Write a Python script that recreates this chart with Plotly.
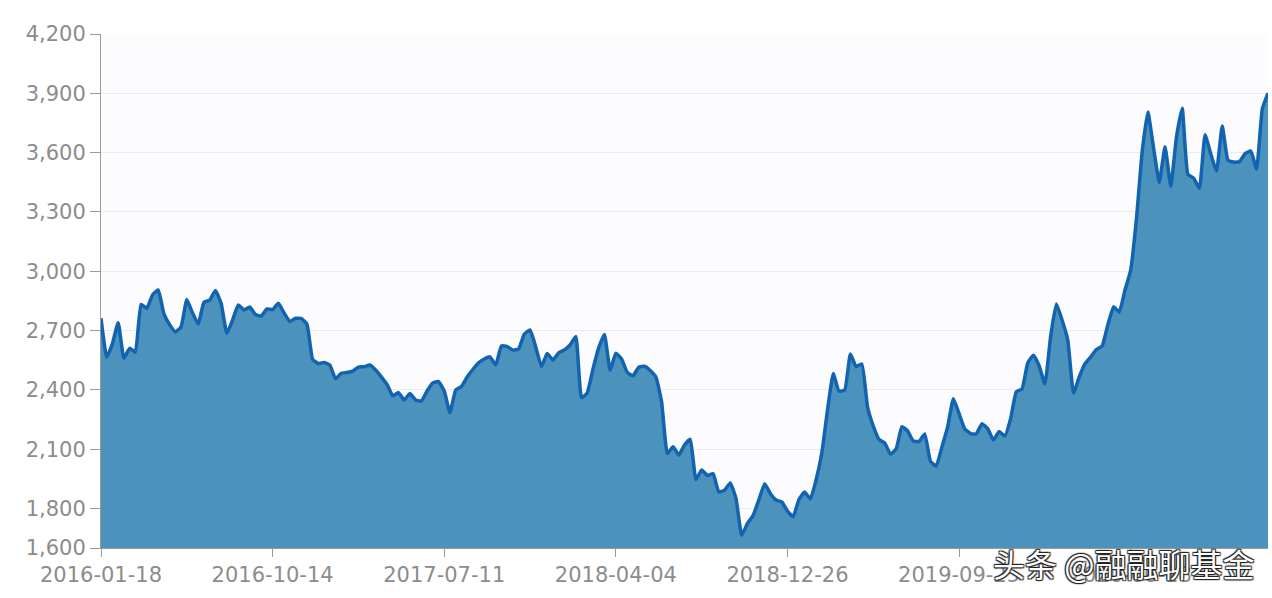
import plotly.graph_objects as go

# Index value, sampled roughly weekly (trading-day positions)
values = [
    2762, 2566, 2634, 2740, 2560, 2610, 2591, 2832, 2812, 2880,
    2905, 2784, 2730, 2693, 2719, 2857, 2789, 2733, 2843, 2854,
    2903, 2838, 2686, 2753, 2829, 2804, 2819, 2781, 2773, 2809,
    2806, 2838, 2789, 2746, 2762, 2761, 2733, 2554, 2533, 2538,
    2526, 2456, 2484, 2488, 2495, 2515, 2517, 2526, 2501, 2466,
    2427, 2370, 2386, 2349, 2381, 2349, 2344, 2394, 2435, 2442,
    2394, 2285, 2399, 2417, 2465, 2503, 2537, 2556, 2567, 2526,
    2622, 2619, 2601, 2607, 2682, 2703, 2617, 2518, 2584, 2551,
    2587, 2602, 2627, 2670, 2360, 2385, 2505, 2612, 2680, 2500,
    2585, 2556, 2488, 2471, 2514, 2519, 2498, 2465, 2338, 2078,
    2112, 2070, 2121, 2150, 1946, 1995, 1967, 1976, 1883, 1893,
    1929, 1851, 1665, 1724, 1765, 1843, 1925, 1876, 1843, 1833,
    1787, 1759, 1845, 1883, 1848, 1944, 2080, 2298, 2483, 2394,
    2399, 2581, 2517, 2531, 2313, 2217, 2149, 2131, 2075, 2101,
    2214, 2192, 2141, 2139, 2177, 2038, 2015, 2111, 2212, 2355,
    2280, 2202, 2179, 2177, 2229, 2204, 2146, 2189, 2166, 2253,
    2390, 2404, 2536, 2575, 2521, 2430, 2670, 2834, 2753, 2652,
    2384, 2465, 2531, 2566, 2604, 2622, 2728, 2820, 2794, 2905,
    3006, 3264, 3603, 3805, 3622, 3450, 3630, 3430, 3679, 3825,
    3490, 3471, 3420, 3690, 3593, 3507, 3735, 3562, 3552, 3554,
    3595, 3608, 3517, 3820, 3901,
]
points = list(range(len(values)))

tick_positions = [0, 30, 60, 90, 120, 150, 180]
tick_dates = ["2016-01-18", "2016-10-14", "2017-07-11", "2018-04-04",
              "2018-12-26", "2019-09-25", "2020-06-18"]
y_ticks = [1600, 1800, 2100, 2400, 2700, 3000, 3300, 3600, 3900, 4200]

axis_font = dict(family="DejaVu Sans", size=21, color="#8c8c8c")

fig = go.Figure()
fig.add_trace(go.Scatter(
    x=points,
    y=values,
    mode="lines",
    line=dict(color="#1263b0", width=3.5, shape="spline", smoothing=0.4),
    fill="tozeroy",
    fillcolor="#4b93bd",
    hoverinfo="skip",
    showlegend=False,
))

# watermark
fig.add_annotation(
    text="头条 @融融聊基金",
    xref="paper", yref="paper", x=0.99, y=0.02,
    xanchor="right", yanchor="top", showarrow=False,
    font=dict(family="Noto Sans CJK SC", size=32, color="#ffffff",
              shadow="1px 1px 1px #222, -1px -1px 1px #222, 1px -1px 1px #222, -1px 1px 1px #222"),
)

fig.update_layout(
    width=1272, height=598,
    margin=dict(l=101, r=4, t=34, b=50),
    paper_bgcolor="#ffffff",
    plot_bgcolor="#fcfcfe",
    xaxis=dict(
        range=[0, len(values) - 1],
        tickmode="array", tickvals=tick_positions, ticktext=tick_dates,
        ticks="outside", ticklen=8, tickcolor="#9a9a9a",
        showgrid=False, zeroline=False,
        showline=True, linecolor="#9a9a9a",
        tickfont=axis_font,
    ),
    yaxis=dict(
        range=[1600, 4200],
        tickmode="array", tickvals=y_ticks,
        tickformat=",d",
        ticks="outside", ticklen=10, tickcolor="#9a9a9a",
        showgrid=True, gridcolor="#ebebeb", gridwidth=1,
        zeroline=False, showline=True, linecolor="#9a9a9a",
        tickfont=axis_font,
    ),
)

fig.write_html(
    "out.html",
    config={"displayModeBar": False},
    post_script="document.body.style.margin='0';document.body.style.overflow='hidden';",
)
